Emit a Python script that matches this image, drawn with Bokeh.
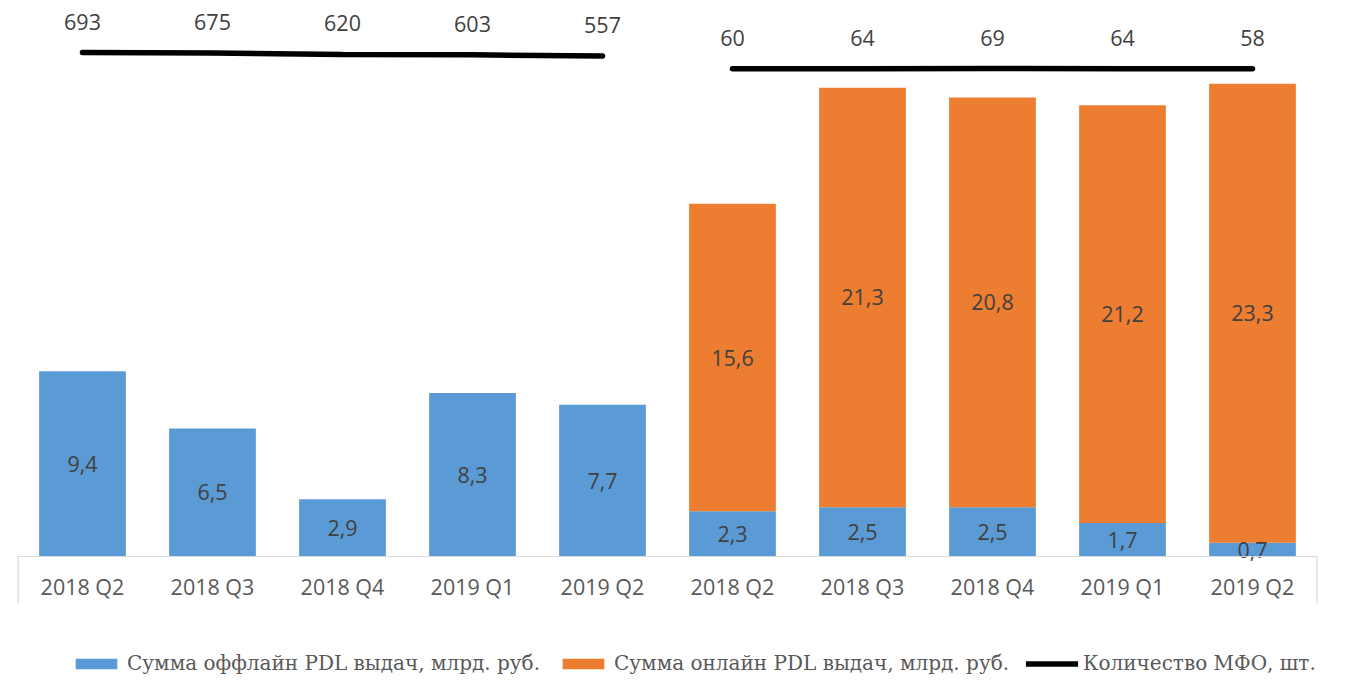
from bokeh.plotting import figure
from bokeh.models import ColumnDataSource, FactorRange, Range1d, Span, Legend, LegendItem
from bokeh.core.properties import value
from bokeh.embed import file_html
from bokeh.resources import INLINE

# ---------------- data ----------------
groups = ["offline", "online"]
quarters = ["2018 Q2", "2018 Q3", "2018 Q4", "2019 Q1", "2019 Q2"]
offline_left = [9.4, 6.5, 2.9, 8.3, 7.7]
offline_right = [2.3, 2.5, 2.5, 1.7, 0.7]
online_right = [15.6, 21.3, 20.8, 21.2, 23.3]
mfo_left = [693, 675, 620, 603, 557]
mfo_right = [60, 64, 69, 64, 58]
legend_labels = ["Сумма оффлайн PDL выдач, млрд. руб.",
                 "Сумма онлайн PDL выдач, млрд. руб.",
                 "Количество МФО, шт."]

BLUE = "#5B9BD5"
ORANGE = "#ED7D31"
TXT = "#404040"
AXC = "#D9D9D9"
NUM_FONT = value("Open Sans")
FS = "21.5px"
PX_PER_UNIT = 19.7


def fmt(v):
    return ("%.1f" % v).replace(".", ",")


x_left = [(groups[0], q) for q in quarters]
x_right = [(groups[1], q) for q in quarters]
xs = x_left + x_right
off = offline_left + offline_right
on = [0.0] * len(quarters) + online_right

W, H = 1329, 675
x_range = FactorRange(factors=xs, range_padding=0, factor_padding=0,
                      group_padding=0, subgroup_padding=0)
y_range = Range1d(-119 / PX_PER_UNIT, 556 / PX_PER_UNIT)
axis_box_bottom = -47 / PX_PER_UNIT

p = figure(width=W, height=H, x_range=x_range, y_range=y_range,
           output_backend="svg", toolbar_location=None,
           y_axis_location=None, min_border_left=17, min_border_right=12,
           min_border_top=0, min_border_bottom=0)
p.outline_line_color = None
p.xgrid.visible = False
p.ygrid.visible = False
p.background_fill_color = "white"
p.border_fill_color = "white"

p.extra_y_ranges = {"cnt": Range1d(-23548, 2717)}

# bars
src = ColumnDataSource(dict(x=xs, off=off, on=on))
bars = p.vbar_stack(["off", "on"], x="x", width=0.667, color=[BLUE, ORANGE],
                    line_color=None, source=src)

# axis frame lines (synthetic categorical coordinates 0 .. n)
n = len(xs)
p.add_layout(Span(location=0, dimension="width", line_color=AXC, line_width=1.2))
p.segment(x0=[0, n], y0=[0, 0], x1=[0, n], y1=[axis_box_bottom, axis_box_bottom],
          line_color=AXC, line_width=2.5)

# value labels
lab_off = ColumnDataSource(dict(x=xs, y=[v / 2 for v in off], t=[fmt(v) for v in off]))
p.text(x="x", y="y", text="t", source=lab_off, text_align="center",
       text_baseline="middle", text_font=NUM_FONT, text_font_size=FS,
       text_color=TXT)
lab_on = ColumnDataSource(dict(x=x_right,
                               y=[o + n_ / 2 for o, n_ in zip(offline_right, online_right)],
                               t=[fmt(v) for v in online_right]))
p.text(x="x", y="y", text="t", source=lab_on, text_align="center",
       text_baseline="middle", text_font=NUM_FONT, text_font_size=FS,
       text_color=TXT)

# MFO count lines
ln1 = p.line(x=x_left, y=mfo_left, y_range_name="cnt", line_color="black",
             line_width=5.5, line_cap="round")
p.line(x=x_right, y=mfo_right, y_range_name="cnt", line_color="black",
       line_width=5.5, line_cap="round")
cnt_src = ColumnDataSource(dict(x=xs, y=mfo_left + mfo_right,
                                t=[str(v) for v in mfo_left + mfo_right]))
p.text(x="x", y="y", text="t", source=cnt_src, y_range_name="cnt",
       y_offset=-31, text_align="center", text_baseline="middle",
       text_font=NUM_FONT, text_font_size=FS, text_color=TXT)

# x axis
ax = p.xaxis[0]
ax.axis_line_color = None
ax.major_tick_line_color = None
ax.minor_tick_line_color = None
ax.major_tick_out = 0
ax.major_tick_in = 0
ax.major_label_standoff = -104
ax.major_label_text_font = "Open Sans"
ax.major_label_text_font_size = FS
ax.major_label_text_color = "#595959"
ax.major_label_orientation = "horizontal"
ax.group_text_font_size = "0px"
ax.group_text_color = None
if hasattr(ax, "separator_line_color"):
    ax.separator_line_color = None

# legend
items = [LegendItem(label=legend_labels[0], renderers=[bars[0]]),
         LegendItem(label=legend_labels[1], renderers=[bars[1]]),
         LegendItem(label=legend_labels[2], renderers=[ln1])]
legend = Legend(items=items, orientation="horizontal", location=(53, 0),
                border_line_color=None, background_fill_alpha=0, padding=0,
                margin=0, spacing=17, label_standoff=5, glyph_width=52,
                glyph_height=13, label_text_font="DejaVu Serif",
                label_text_font_size="20px", label_text_color="#595959")
p.add_layout(legend)

open("out.html", "w").write(file_html(p, INLINE))
